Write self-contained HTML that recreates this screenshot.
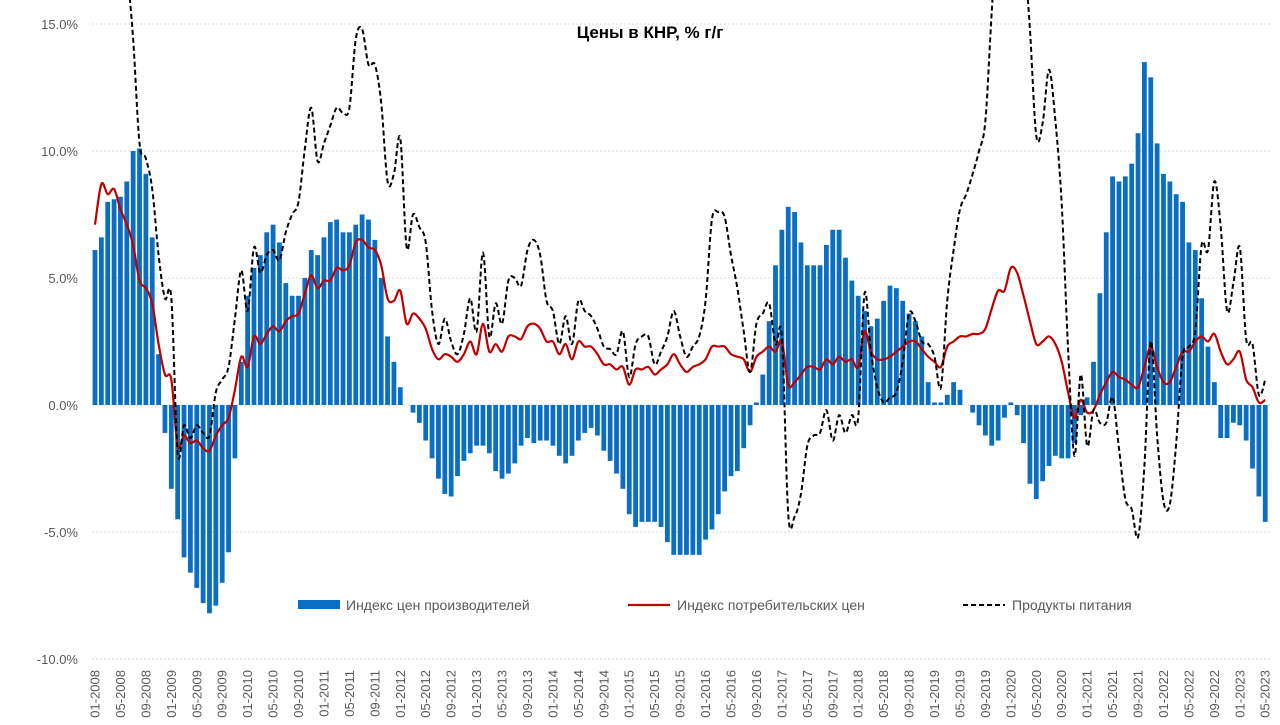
<!DOCTYPE html>
<html><head><meta charset="utf-8">
<style>
html,body{margin:0;padding:0;background:#fff;}
svg{display:block;font-family:"Liberation Sans",sans-serif;}
</style></head>
<body>
<svg id="chart" width="1280" height="725" viewBox="0 0 1280 725" xmlns="http://www.w3.org/2000/svg">
<text x="650" y="38" text-anchor="middle" font-size="17" font-weight="bold" fill="#000">Цены в КНР, % г/г</text>
<g id="grid"></g>
<g id="yaxis"></g>
<g id="bars"></g>
<g id="lines"></g>
<g id="xaxis"></g>
<g>
 <rect x="298" y="600" width="42" height="9" fill="#0A6FC2"/>
 <text x="346" y="610" font-size="14" fill="#595959">Индекс цен производителей</text>
 <line x1="628" y1="605" x2="670" y2="605" stroke="#C00000" stroke-width="2.2"/>
 <text x="677" y="610" font-size="14" fill="#595959">Индекс потребительских цен</text>
 <line x1="963" y1="605" x2="1005" y2="605" stroke="#000" stroke-width="2" stroke-dasharray="5,3"/>
 <text x="1012" y="610" font-size="14" fill="#595959">Продукты питания</text>
</g>
</svg>
<script>
const ppi = [6.1,6.6,8.0,8.1,8.2,8.8,10.0,10.1,9.1,6.6,2.0,-1.1,
-3.3,-4.5,-6.0,-6.6,-7.2,-7.8,-8.2,-7.9,-7.0,-5.8,-2.1,1.7,
4.3,5.4,5.9,6.8,7.1,6.4,4.8,4.3,4.3,5.0,6.1,5.9,
6.6,7.2,7.3,6.8,6.8,7.1,7.5,7.3,6.5,5.0,2.7,1.7,
0.7,0.0,-0.3,-0.7,-1.4,-2.1,-2.9,-3.5,-3.6,-2.8,-2.2,-1.9,
-1.6,-1.6,-1.9,-2.6,-2.9,-2.7,-2.3,-1.6,-1.3,-1.5,-1.4,-1.4,
-1.6,-2.0,-2.3,-2.0,-1.4,-1.1,-0.9,-1.2,-1.8,-2.2,-2.7,-3.3,
-4.3,-4.8,-4.6,-4.6,-4.6,-4.8,-5.4,-5.9,-5.9,-5.9,-5.9,-5.9,
-5.3,-4.9,-4.3,-3.4,-2.8,-2.6,-1.7,-0.8,0.1,1.2,3.3,5.5,
6.9,7.8,7.6,6.4,5.5,5.5,5.5,6.3,6.9,6.9,5.8,4.9,
4.3,3.7,3.1,3.4,4.1,4.7,4.6,4.1,3.6,3.3,2.7,0.9,
0.1,0.1,0.4,0.9,0.6,0.0,-0.3,-0.8,-1.2,-1.6,-1.4,-0.5,
0.1,-0.4,-1.5,-3.1,-3.7,-3.0,-2.4,-2.0,-2.1,-2.1,-1.5,-0.4,
0.3,1.7,4.4,6.8,9.0,8.8,9.0,9.5,10.7,13.5,12.9,10.3,
9.1,8.8,8.3,8.0,6.4,6.1,4.2,2.3,0.9,-1.3,-1.3,-0.7,
-0.8,-1.4,-2.5,-3.6,-4.6];
const cpi = [7.1,8.7,8.3,8.5,7.7,7.1,6.3,4.9,4.6,4.0,2.4,1.2,
1.0,-1.6,-1.2,-1.5,-1.4,-1.7,-1.8,-1.2,-0.8,-0.5,0.6,1.9,
1.5,2.7,2.4,2.8,3.1,2.9,3.3,3.5,3.6,4.4,5.1,4.6,
4.9,4.9,5.4,5.3,5.5,6.4,6.5,6.2,6.1,5.5,4.2,4.1,
4.5,3.2,3.6,3.4,3.0,2.2,1.8,2.0,1.9,1.7,2.0,2.5,
2.0,3.2,2.1,2.4,2.1,2.7,2.7,2.6,3.1,3.2,3.0,2.5,
2.5,2.0,2.4,1.8,2.5,2.3,2.3,2.0,1.6,1.6,1.4,1.5,
0.8,1.4,1.4,1.5,1.2,1.4,1.6,2.0,1.6,1.3,1.5,1.6,
1.8,2.3,2.3,2.3,2.0,1.9,1.8,1.3,1.9,2.1,2.3,2.1,
2.5,0.8,0.9,1.2,1.5,1.5,1.4,1.8,1.6,1.9,1.7,1.8,
1.5,2.9,2.1,1.8,1.8,1.9,2.1,2.3,2.5,2.5,2.2,1.9,
1.7,1.5,2.3,2.5,2.7,2.7,2.8,2.8,3.0,3.8,4.5,4.5,
5.4,5.2,4.3,3.3,2.4,2.5,2.7,2.4,1.7,0.5,-0.5,0.2,
-0.3,-0.2,0.4,0.9,1.3,1.1,1.0,0.8,0.7,1.5,2.3,1.5,
0.9,0.9,1.5,2.1,2.1,2.5,2.7,2.5,2.8,2.1,1.6,1.8,
2.1,1.0,0.7,0.1,0.2];
const food = [18.2,23.3,21.4,22.1,19.9,17.3,14.4,10.3,9.7,8.5,5.9,4.2,
4.2,-1.9,-0.8,-1.3,-0.8,-1.1,-1.2,0.5,1.0,1.5,3.4,5.3,
3.7,6.2,5.2,5.9,6.1,5.7,6.8,7.5,8.0,10.1,11.7,9.6,
10.3,11.0,11.7,11.5,11.7,14.4,14.8,13.4,13.4,11.9,8.8,9.1,
10.5,6.2,7.5,7.0,6.4,3.7,2.4,3.4,2.5,2.0,2.8,4.2,
2.9,6.0,2.7,4.0,3.2,4.9,5.0,4.7,6.1,6.5,5.9,4.1,
3.7,2.4,3.5,2.4,4.1,3.7,3.5,3.0,2.3,2.2,2.0,2.9,
1.1,2.4,2.7,2.7,1.6,2.1,2.7,3.7,2.7,1.9,2.3,2.7,
4.1,7.3,7.6,7.4,5.9,4.6,2.9,1.3,3.2,3.6,4.0,2.4,
2.7,-4.3,-4.4,-3.5,-1.6,-1.2,-1.1,-0.2,-1.4,-0.4,-1.1,-0.4,
-0.5,4.4,2.1,0.7,0.1,0.3,0.5,1.7,3.6,3.3,2.5,2.4,
1.9,0.7,4.1,6.1,7.7,8.3,9.1,10.0,11.2,15.5,19.1,17.4,
20.6,21.9,18.3,14.8,10.6,11.1,13.2,11.2,7.9,2.2,-2.0,1.2,
-1.6,-0.2,-0.7,-0.7,0.3,-1.7,-3.7,-4.1,-5.2,-2.4,2.5,-1.2,
-3.8,-3.9,-1.5,1.9,2.3,2.9,6.3,6.1,8.8,7.0,3.7,4.8,
6.2,2.6,2.4,0.4,1.0];
const yTicks = [15,10,5,0,-5,-10];
const yTickLabels = ["15.0%","10.0%","5.0%","0.0%","-5.0%","-10.0%"];
const startYear = 2008;

const NS="http://www.w3.org/2000/svg";
const X0=95, DX=6.36, Y0=405, KY=25.4;
function xs(i){return X0+i*DX;}
function ys(v){return Y0-v*KY;}
function mk(tag,attrs,parent){const e=document.createElementNS(NS,tag);for(const k in attrs)e.setAttribute(k,attrs[k]);parent.appendChild(e);return e;}

const grid=document.getElementById('grid'), yaxis=document.getElementById('yaxis');
yTicks.forEach((t,k)=>{
  const g=mk('line',{x1:92,x2:1272,y1:ys(t),y2:ys(t),stroke:'#D9D9D9','stroke-width':1,'stroke-dasharray':'2,2'},grid);
  
  
  const tx=mk('text',{x:78,y:ys(t)+5,'text-anchor':'end','font-size':13,fill:'#595959'},yaxis);
  
  
  tx.textContent=yTickLabels[k];
});

const bars=document.getElementById('bars');
ppi.forEach((v,i)=>{
  const y=Math.min(ys(v),Y0), h=Math.abs(ys(v)-Y0);
  const r=mk('rect',{x:xs(i)-2.4,y:y,width:4.8,height:h,fill:'#0A6FC2'},bars);
  
  
});

function smoothPath(arr){
  const p=arr.map((v,i)=>[xs(i),ys(v)]);
  let d='M'+p[0][0]+','+p[0][1];
  for(let i=0;i<p.length-1;i++){
    const a=p[Math.max(i-1,0)],b=p[i],c=p[i+1],e=p[Math.min(i+2,p.length-1)];
    const c1=[b[0]+(c[0]-a[0])/6,b[1]+(c[1]-a[1])/6];
    const c2=[c[0]-(e[0]-b[0])/6,c[1]-(e[1]-b[1])/6];
    d+=' C'+c1[0].toFixed(2)+','+c1[1].toFixed(2)+' '+c2[0].toFixed(2)+','+c2[1].toFixed(2)+' '+c[0].toFixed(2)+','+c[1].toFixed(2);
  }
  return d;
}
const lines=document.getElementById('lines');
const lc=mk('path',{d:smoothPath(cpi),fill:'none',stroke:'#C00000','stroke-width':2.2},lines);


const lf=mk('path',{d:smoothPath(food),fill:'none',stroke:'#000','stroke-width':2,'stroke-dasharray':'5,3'},lines);



const xaxis=document.getElementById('xaxis');
for(let i=0;i<ppi.length;i+=4){
  const m=(i%12)+1, yr=startYear+Math.floor(i/12);
  const lab=(m<10?'0':'')+m+'-'+yr;
  const x=xs(i)+4.5, y=670;
  const t=mk('text',{x:x,y:y,'text-anchor':'end','font-size':13,fill:'#595959',transform:'rotate(-90 '+x+' '+y+')'},xaxis);
  
  
  t.textContent=lab;
}
</script>
</body></html>
